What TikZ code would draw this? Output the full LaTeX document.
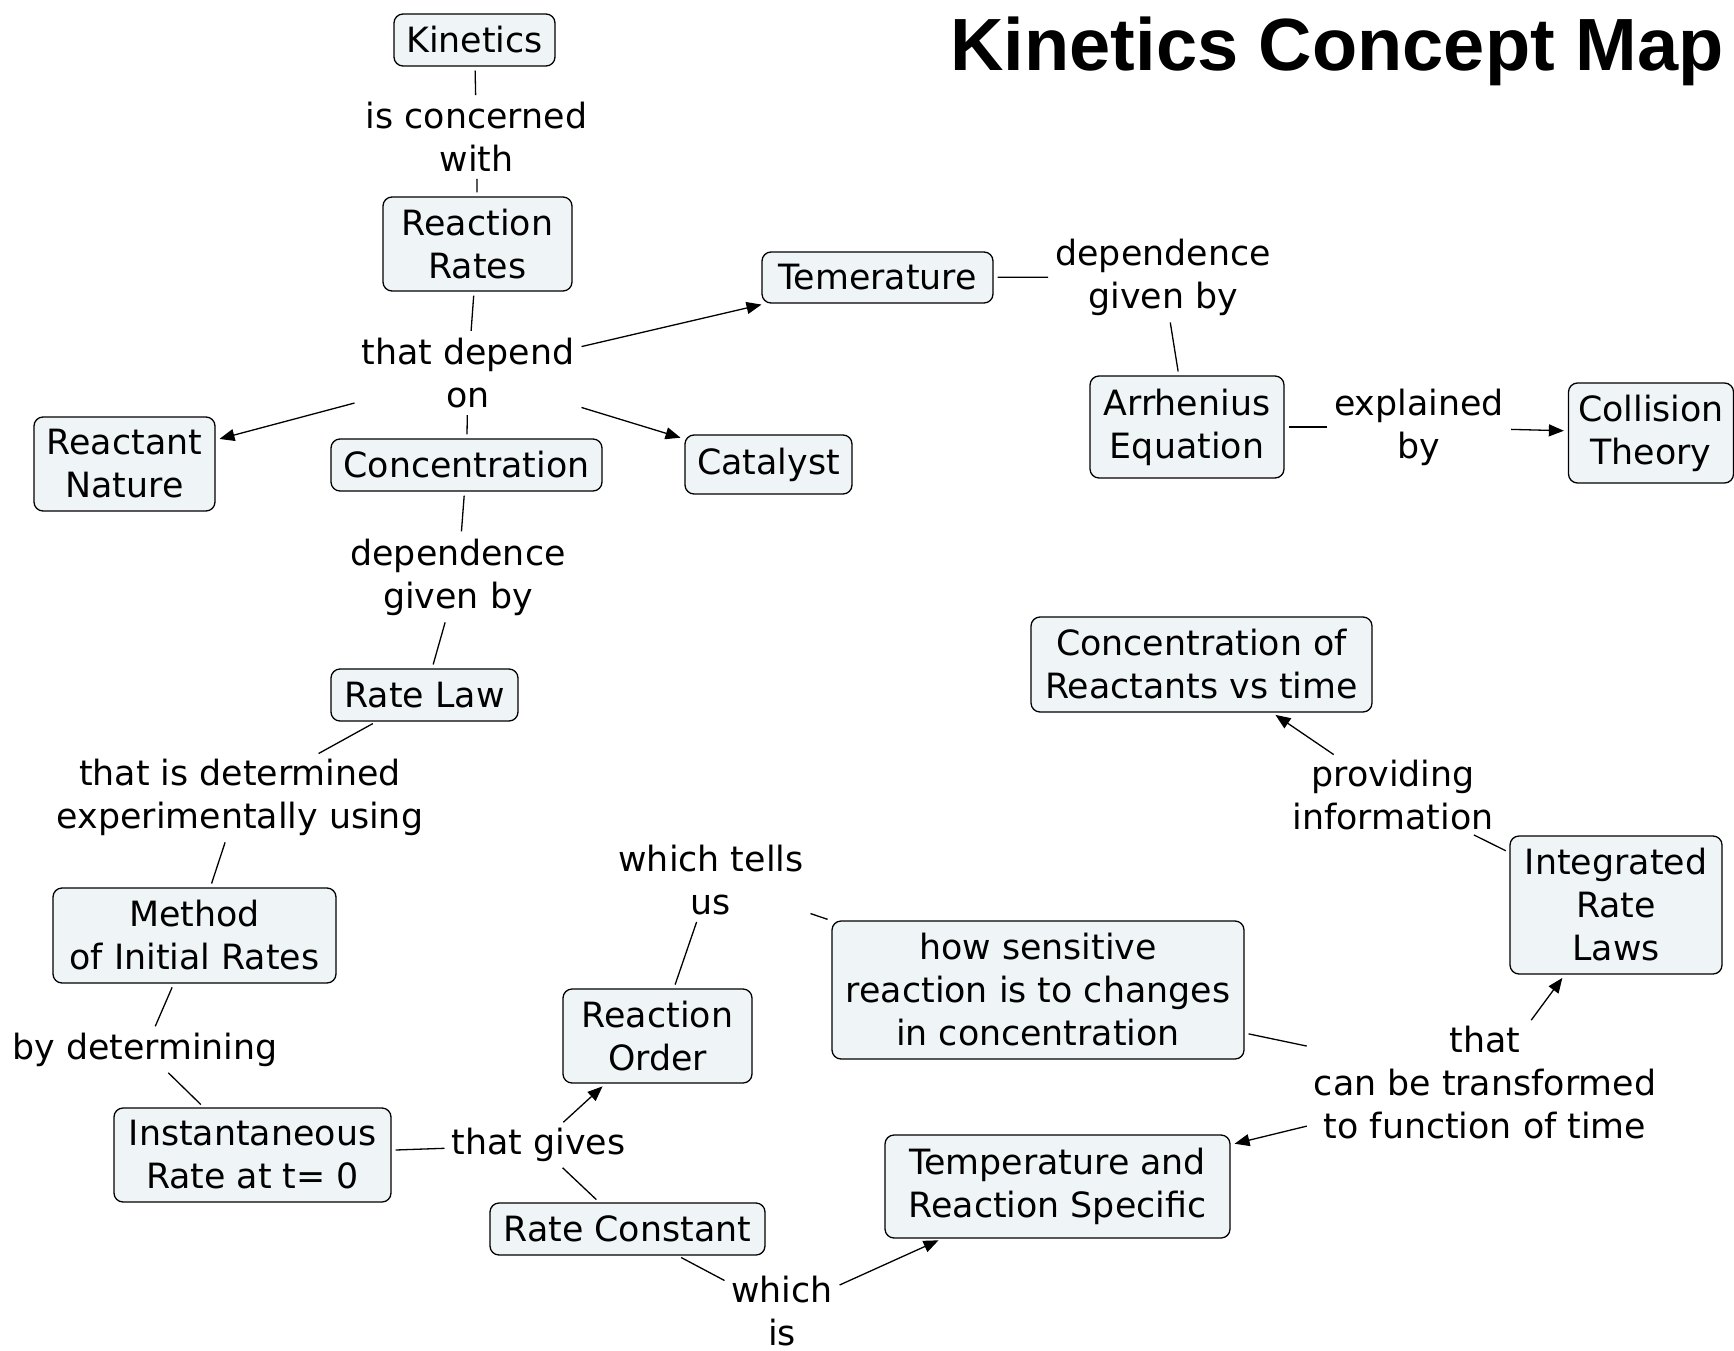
\documentclass[tikz,border=0pt]{standalone}
\usepackage{fontspec}
\setmainfont{DejaVu Sans}
\newfontfamily\titlefont{Liberation Sans}
\usetikzlibrary{arrows.meta}
\definecolor{boxfill}{RGB}{239,244,247}
\begin{document}
\begin{tikzpicture}[x=1pt,y=-1pt,
  every node/.style={font=\fontsize{34.8}{43}\selectfont},
  box/.style={draw=black, line width=1.3pt, rounded corners=9pt, fill=boxfill, align=center, inner sep=0pt},
  lbl/.style={align=center, inner sep=3pt},
  conn/.style={line width=1.3pt, shorten <=4pt, shorten >=4pt},
  arr/.style={conn, -{Triangle[length=15pt,width=12pt]}}]
\useasboundingbox (0,0) rectangle (1734,1351);
% title
\node[anchor=base, font=\titlefont\bfseries\fontsize{74}{80}\selectfont, inner sep=0pt] (title) at (1337,71) {Kinetics Concept Map};
% concept boxes
\node[box, minimum width=161, minimum height=52] (kin) at (474.5,40) {Kinetics};
\node[box, minimum width=189, minimum height=94] (rr) at (477.5,244) {Reaction\\Rates};
\node[box, minimum width=231, minimum height=51] (temp) at (877.5,277.5) {Temerature};
\node[box, minimum width=181, minimum height=94] (rn) at (124.5,464) {Reactant\\Nature};
\node[box, minimum width=271, minimum height=52] (conc) at (466.5,465) {Concentration};
\node[box, minimum width=167, minimum height=59] (cat) at (768.5,464.5) {Catalyst};
\node[box, minimum width=194, minimum height=102] (arr) at (1187,427) {Arrhenius\\Equation};
\node[box, minimum width=165, minimum height=100] (col) at (1651,433) {Collision\\Theory};
\node[box, minimum width=341, minimum height=95] (crt) at (1201.5,664.5) {Concentration of\\Reactants vs time};
\node[box, minimum width=187, minimum height=52] (rl) at (424.5,695) {Rate Law};
\node[box, minimum width=212, minimum height=138] (irl) at (1616,905) {Integrated\\Rate\\Laws};
\node[box, minimum width=283, minimum height=95] (mir) at (194.5,935.5) {Method\\of Initial Rates};
\node[box, minimum width=412, minimum height=138] (hs) at (1038,990) {how sensitive\\reaction is to changes\\in concentration};
\node[box, minimum width=189, minimum height=94] (ro) at (657.5,1036) {Reaction\\Order};
\node[box, minimum width=277, minimum height=94] (inst) at (252.5,1155) {Instantaneous\\Rate at t= 0};
\node[box, minimum width=345, minimum height=103] (trs) at (1057.5,1186.5) {Temperature and\\Reaction Specific};
\node[box, minimum width=275, minimum height=52] (rc) at (627.5,1229) {Rate Constant};
% linking phrases
\node[lbl] (l1) at (476.5,137) {is concerned\\with};
\node[lbl] (l2) at (468,373) {that depend\\on};
\node[lbl] (l3) at (1163,277) {dependence\\given by};
\node[lbl] (l4) at (1419,427) {explained\\by};
\node[lbl] (l5) at (458,577) {dependence\\given by};
\node[lbl] (l6) at (240,797) {that is determined\\experimentally using};
\node[lbl] (l7) at (1393,795) {providing\\information};
\node[lbl] (l8) at (711,880) {which tells\\us};
\node[lbl] (l9) at (145,1050) {by determining};
\node[lbl] (l10) at (1485,1083) {that\\can be transformed\\to function of time};
\node[lbl] (l11) at (538.5,1145) {that gives};
\node[lbl] (l12) at (782,1311) {which\\is};
% connectors
\draw[conn] (kin) -- (l1);
\draw[conn] (l1) -- (rr);
\draw[conn] (rr) -- (l2);
\draw[arr] (l2) -- (temp);
\draw[arr] (l2) -- (rn);
\draw[conn] (l2) -- (conc);
\draw[arr] (l2) -- (cat);
\draw[conn] (temp) -- (l3);
\draw[conn] (l3) -- (arr);
\draw[conn] (arr) -- (l4);
\draw[arr] (l4) -- (col);
\draw[conn] (conc) -- (l5);
\draw[conn] (l5) -- (rl);
\draw[conn] (rl) -- (l6);
\draw[conn] (l6) -- (mir);
\draw[conn] (mir) -- (l9);
\draw[conn] (l9) -- (inst);
\draw[conn] (inst) -- (l11);
\draw[arr] (l11) -- (ro);
\draw[conn] (rc) -- (l11);
\draw[conn] (ro) -- (l8);
\draw[conn] (l8) -- (hs);
\draw[conn] (hs) -- (l10);
\draw[arr] (l10) -- (irl);
\draw[arr] (l10) -- (trs);
\draw[conn] (rc) -- (l12);
\draw[arr] (l12) -- (trs);
\draw[conn] (irl) -- (l7);
\draw[arr] (l7) -- (crt);
\end{tikzpicture}
\end{document}
